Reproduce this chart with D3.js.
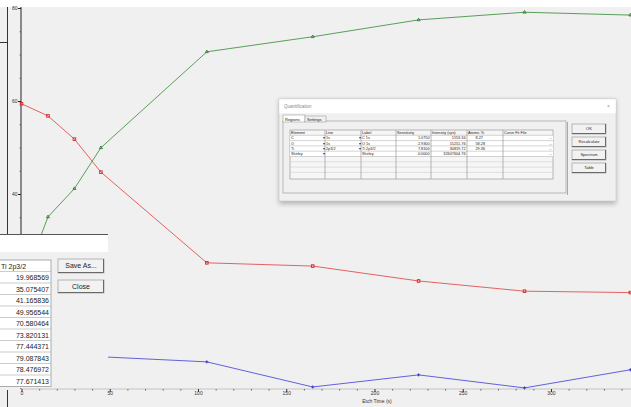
<!DOCTYPE html>
<html>
<head>
<meta charset="utf-8">
<script src="https://cdn.jsdelivr.net/npm/d3@7"></script>
<style>
  html, body { margin: 0; padding: 0; background: #f0f0f0; }
  svg { display: block; font-family: "Liberation Sans", Arial, sans-serif; }
</style>
</head>
<body>
<svg id="chart" width="631" height="407"></svg>
<script>
// Depth profile: etch time (s) vs atomic %
const etchTimes = [0, 15, 30, 45, 105, 165, 225, 285, 345, 405];
const tiValues = [19.968569, 35.075407, 41.165836, 49.956544, 70.580464,
                  73.820131, 77.444371, 79.087843, 78.476972, 77.671413];
const oValues = [59.4, 56.8, 51.8, 44.7, 25.2, 24.5, 21.3, 19.1, 18.8, 19.0];
const cValues = [20.6, 8.1, 7.0, 5.0, 3.9, -1.5, 1.1, -1.7, 2.2, 3.0];

// labelled y ticks (lower ones sit behind the table window)
const yTicks = [40, 60, 80];
const xTicks = [0, 50, 100, 150, 200, 250, 300];
const xTitle = "Etch Time (s)";

const tableHeader = "Ti 2p3/2";
const tableRows = ["19.968569", "35.075407", "41.165836", "49.956544", "70.580464",
                   "73.820131", "77.444371", "79.087843", "78.476972", "77.671413"];

const quantColumns = ["Element", "Line", "Label", "Sensitivity", "Intensity (cps)", "Atomic %", "Curve Fit File"];
const quantRows = [
  ["C", "1s", "C 1s", "1.0750", "1553.34", "8.27"],
  ["O", "1s", "O 1s", "2.9300", "15251.76", "58.28"],
  ["Ti", "2p3/2", "Ti 2p3/2", "7.8100", "30819.72", "29.36"],
  ["Shirley", "", "Shirley", "0.0000", "32607604.76", ""]
];
const quantButtons = ["OK", "Recalculate", "Spectrum", "Table"];

const svg = d3.select("#chart");

// window background
svg.append("rect").attr("x", 0).attr("y", 0).attr("width", 631).attr("height", 407).attr("fill", "#f0f0f0");
svg.append("rect").attr("x", 0).attr("y", 0).attr("width", 631).attr("height", 7).attr("fill", "#ffffff");

const x = d3.scaleLinear().domain([0, 345]).range([21.5, 630.4]);
const y = d3.scaleLinear().domain([-2, 80]).range([389.3, 8]);

// y axis
const yAxis = svg.append("g").attr("transform", "translate(21,0)")
  .call(d3.axisLeft(y).tickValues(yTicks).tickSize(3).tickSizeOuter(0).tickFormat(d3.format("d")));
yAxis.select(".domain").attr("stroke", "#222").attr("d", "M0,7V389");
yAxis.selectAll(".tick line").attr("stroke", "#222");
yAxis.selectAll(".tick text").attr("font-size", 5).attr("fill", "#333").attr("x", -3.5);
svg.append("g").attr("transform", "translate(21,0)")
  .call(d3.axisLeft(y).tickValues(d3.range(0, 81, 5).filter(v => v % 20)).tickSize(1.5).tickFormat(""))
  .call(g => g.select(".domain").remove())
  .selectAll("line").attr("stroke", "#666");

// x axis
const xAxis = svg.append("g").attr("transform", "translate(0,389)")
  .call(d3.axisBottom(x).tickValues(xTicks).tickSize(3).tickSizeOuter(0).tickFormat(d3.format("d")));
xAxis.select(".domain").attr("stroke", "#c4c4c4").attr("d", "M21,0H631");
xAxis.selectAll(".tick line").attr("stroke", "#333");
xAxis.selectAll(".tick text").attr("font-size", 5).attr("fill", "#333").attr("y", 2.5);
svg.append("g").attr("transform", "translate(0,389)")
  .call(d3.axisBottom(x).tickValues(d3.range(10, 350, 10).filter(v => v % 50)).tickSize(1.5).tickFormat(""))
  .call(g => g.select(".domain").remove())
  .selectAll("line").attr("stroke", "#666");
svg.append("text").attr("x", 377).attr("y", 402.5).attr("text-anchor", "middle")
  .attr("font-size", 5).attr("fill", "#333").text(xTitle);

// series
const series = [
  { name: "O 1s", values: oValues, color: "#e04848", marker: "square" },
  { name: "Ti 2p3/2", values: tiValues, color: "#3f8f3f", marker: "triangle" },
  { name: "C 1s", values: cValues, color: "#4848d8", marker: "plus" }
];
const line = d3.line().x((d, i) => x(etchTimes[i])).y(d => y(d));
series.forEach(s => {
  svg.append("path").datum(s.values).attr("d", line)
    .attr("fill", "none").attr("stroke", s.color).attr("stroke-width", 1).attr("opacity", 0.85);
  const g = svg.append("g");
  s.values.forEach((v, i) => {
    const px = x(etchTimes[i]), py = y(v);
    if (s.marker === "square") {
      g.append("rect").attr("x", px - 1.3).attr("y", py - 1.3).attr("width", 2.6).attr("height", 2.6)
        .attr("fill", "none").attr("stroke", "#d02828").attr("stroke-width", 0.9);
    } else if (s.marker === "triangle") {
      g.append("path").attr("d", d3.symbol(d3.symbolTriangle, 4)()).attr("transform", `translate(${px},${py})`)
        .attr("fill", "none").attr("stroke", "#2a6e2a").attr("stroke-width", 0.8);
    } else {
      g.append("path").attr("d", `M${px},${py - 1.6}V${py + 1.6}M${px - 1.6},${py}H${px + 1.6}`)
        .attr("stroke", "#2a2ab8").attr("stroke-width", 0.8);
    }
  });
});

// frame lines of the window behind
svg.append("path").attr("d", "M7.5,7V234M7.5,390V407M0,42.5H7.5").attr("stroke", "#333").attr("fill", "none");

// table panel (bottom left)
const panel = svg.append("g");
panel.append("rect").attr("x", 0).attr("y", 234).attr("width", 108).attr("height", 154).attr("fill", "#f0f0f0");
panel.append("rect").attr("x", 0).attr("y", 235).attr("width", 108).attr("height", 17).attr("fill", "#ffffff");
panel.append("line").attr("x1", 0).attr("x2", 108).attr("y1", 234.5).attr("y2", 234.5).attr("stroke", "#555");
const rowH = 11.5, top0 = 260;
panel.append("rect").attr("x", -1).attr("y", top0).attr("width", 52).attr("height", rowH * 11)
  .attr("fill", "#ffffff").attr("stroke", "#9a9a9a").attr("stroke-width", 0.8);
for (let i = 1; i <= 10; i++) {
  panel.append("line").attr("x1", 0).attr("x2", 51).attr("y1", top0 + i * rowH).attr("y2", top0 + i * rowH)
    .attr("stroke", "#b4b4b4").attr("stroke-width", 0.7);
}
panel.append("text").attr("x", 1).attr("y", top0 + 8.5).attr("font-size", 7).attr("fill", "#222").text(tableHeader);
tableRows.forEach((t, i) => {
  panel.append("text").attr("x", 49).attr("y", top0 + (i + 1) * rowH + 8.5).attr("text-anchor", "end")
    .attr("font-size", 7).attr("fill", "#222").text(t);
});
function button(g, bx, by, bw, bh, label, fs) {
  g.append("rect").attr("x", bx).attr("y", by).attr("width", bw).attr("height", bh)
    .attr("fill", "#f2f2f2").attr("stroke", "#a8a8a8").attr("stroke-width", 0.8);
  g.append("path").attr("d", `M${bx + bw - 0.5},${by}V${by + bh - 0.5}H${bx}`)
    .attr("stroke", "#696969").attr("fill", "none").attr("stroke-width", 1);
  g.append("text").attr("x", bx + bw / 2).attr("y", by + bh / 2 + fs * 0.35).attr("text-anchor", "middle")
    .attr("font-size", fs).attr("fill", "#222").text(label);
}
button(panel, 58, 259, 46, 14, "Save As...", 7);
button(panel, 58, 280, 46, 13, "Close", 7);

// quantification dialog
const defs = svg.append("defs");
defs.append("filter").attr("id", "shadow").attr("x", "-10%").attr("y", "-10%").attr("width", "120%").attr("height", "130%")
  .append("feGaussianBlur").attr("stdDeviation", 2.5);
const dlg = svg.append("g").attr("transform", "translate(279,99)");
dlg.append("rect").attr("x", 0).attr("y", 1).attr("width", 337).attr("height", 104)
  .attr("fill", "#000").attr("opacity", 0.25).attr("filter", "url(#shadow)");
dlg.append("rect").attr("x", 0).attr("y", 0).attr("width", 337).attr("height", 102)
  .attr("fill", "#f0f0f0").attr("stroke", "#c8c8c8").attr("stroke-width", 0.6);
dlg.append("rect").attr("x", 0.3).attr("y", 0.3).attr("width", 336.4).attr("height", 14).attr("fill", "#ffffff");
dlg.append("text").attr("x", 5).attr("y", 9).attr("font-size", 4.5).attr("fill", "#888").text("Quantification");
dlg.append("text").attr("x", 328).attr("y", 9).attr("font-size", 5).attr("fill", "#999").text("×");
// tabs
dlg.append("rect").attr("x", 4).attr("y", 22).attr("width", 283).attr("height", 72)
  .attr("fill", "#f0f0f0").attr("stroke", "#a0a0a0").attr("stroke-width", 0.7);
dlg.append("rect").attr("x", 4).attr("y", 16).attr("width", 22).attr("height", 7)
  .attr("fill", "#ffffff").attr("stroke", "#a0a0a0").attr("stroke-width", 0.6);
dlg.append("rect").attr("x", 26).attr("y", 17).attr("width", 21).attr("height", 6)
  .attr("fill", "#f0f0f0").attr("stroke", "#a0a0a0").attr("stroke-width", 0.6);
dlg.append("text").attr("x", 6).attr("y", 21.5).attr("font-size", 4).attr("fill", "#222").text("Regions");
dlg.append("text").attr("x", 28).attr("y", 21.8).attr("font-size", 4).attr("fill", "#222").text("Settings");
// grid
const colX = [11, 46, 82, 117, 152, 188, 224, 274];
const gTop = 31, gRow = 5.3;
const grid = dlg.append("g");
grid.append("rect").attr("x", colX[0]).attr("y", gTop).attr("width", colX[7] - colX[0]).attr("height", 49)
  .attr("fill", "#f6f6f6").attr("stroke", "#8c8c8c").attr("stroke-width", 0.6);
grid.append("rect").attr("x", colX[0]).attr("y", gTop + gRow).attr("width", colX[7] - colX[0]).attr("height", gRow * 4)
  .attr("fill", "#ffffff");
for (let r = 1; r <= 8; r++) {
  grid.append("line").attr("x1", colX[0]).attr("x2", colX[7]).attr("y1", gTop + r * gRow).attr("y2", gTop + r * gRow)
    .attr("stroke", r <= 5 ? "#a8a8a8" : "#c8c8c8").attr("stroke-width", 0.5);
}
colX.slice(1, 7).forEach(cx => {
  grid.append("line").attr("x1", cx).attr("x2", cx).attr("y1", gTop).attr("y2", gTop + 49)
    .attr("stroke", "#9a9a9a").attr("stroke-width", 0.7);
});
quantColumns.forEach((c, i) => {
  grid.append("text").attr("x", colX[i] + 1).attr("y", gTop + 4).attr("font-size", 3.8).attr("fill", "#222").text(c);
});
quantRows.forEach((row, r) => {
  const ty = gTop + (r + 1) * gRow + 4;
  row.forEach((v, c) => {
    const right = c >= 3;
    grid.append("text").attr("x", right ? colX[c + 1] - 1.5 : colX[c] + 1).attr("y", ty)
      .attr("text-anchor", right && c !== 5 ? "end" : "start")
      .attr("font-size", 3.8).attr("fill", "#222")
      .attr("dx", c === 5 ? -colX[c + 1] + colX[c] + 10 : 0).text(v);
  });
  [0, 1].forEach(c => {
    if (r < 3 || c === 0) {
      grid.append("text").attr("x", colX[c + 1] - 2.5).attr("y", ty).attr("font-size", 3.5)
        .attr("fill", "#333").text("▾");
    }
  });
  grid.append("text").attr("x", colX[7] - 4).attr("y", ty).attr("font-size", 3.5).attr("fill", "#333").text("...");
});
// separator and right buttons
dlg.append("line").attr("x1", 288.5).attr("x2", 288.5).attr("y1", 23).attr("y2", 96).attr("stroke", "#8a8a8a").attr("stroke-width", 0.7);
quantButtons.forEach((b, i) => {
  button(dlg, 293, 25 + i * 13, 34, 10, b, 4);
});
</script>
</body>
</html>
